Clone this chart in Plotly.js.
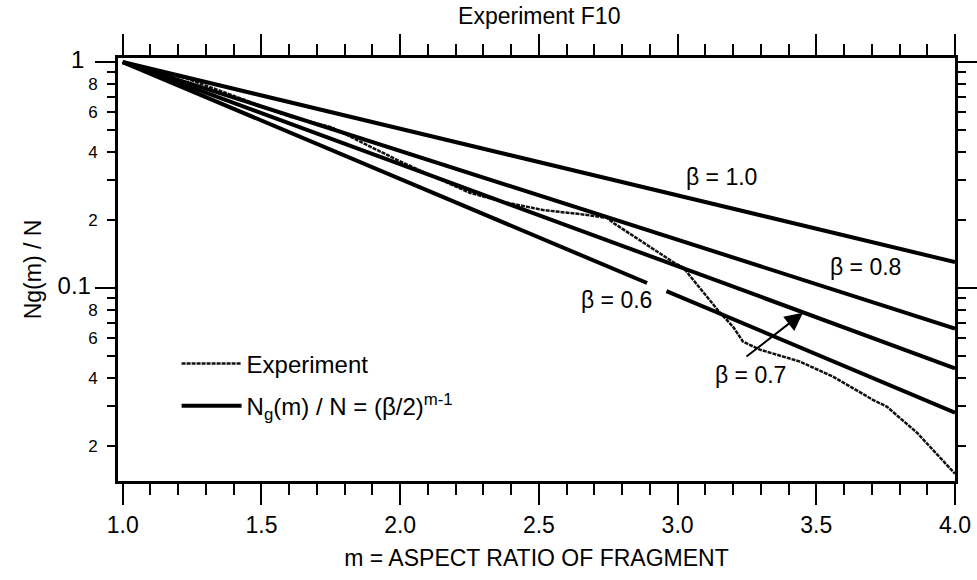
<!DOCTYPE html>
<html><head><meta charset="utf-8">
<script src="https://cdn.plot.ly/plotly-3.0.1.min.js"></script>
<style>html,body{margin:0;padding:0;background:#fff}#chart{width:977px;height:580px}</style>
</head><body><div id="chart"></div>
<script>
// Experiment F10
const expM = [1.0, 1.1, 1.225, 1.39, 1.488, 1.607, 1.751, 1.867, 1.99, 2.083, 2.253, 2.372, 2.515, 2.65, 2.746, 2.768, 2.984, 3.02, 3.153, 3.2, 3.236, 3.297, 3.441, 3.56, 3.704, 3.755, 3.863, 4.0];
const expN = [1.0, 0.92, 0.85, 0.714, 0.645, 0.571, 0.515, 0.438, 0.368, 0.326, 0.263, 0.240, 0.221, 0.212, 0.204, 0.194, 0.130, 0.123, 0.0775, 0.0672, 0.0577, 0.0532, 0.0471, 0.0404, 0.0319, 0.0297, 0.0228, 0.0150];

// Theory lines Ng(m)/N = (beta/2)^(m-1)
const betaNames = ['β = 1.0', 'β = 0.8', 'β = 0.7', 'β = 0.6'];
const theoryM = [[1, 4], [1, 4], [1, 4], [1, 2.89, null, 2.96, 4]];
const theoryN = [[1, 0.13], [1, 0.066], [1, 0.044], [1, 0.105, null, 0.0967, 0.028]];

// label positions (data units)
const labelM = [3.16, 3.677, 3.262, 2.78];
const labelN = [0.31, 0.124, 0.0412, 0.0885];
const arrowHeadM = 3.452, arrowHeadN = 0.0775;
const arrowTailM = 3.243, arrowTailN = 0.049;

// tick labels
const yLabelVals = [0.02, 0.04, 0.06, 0.08, 0.1, 0.2, 0.4, 0.6, 0.8, 1];
const yLabelText = ['2', '4', '6', '8', '0.1', '2', '4', '6', '8', '1'];
const yMinorVals = [0.03, 0.05, 0.07, 0.09, 0.3, 0.5, 0.7, 0.9];
const yMajorVals = [0.1, 1];
const yMajorPad = ['\u00a0', '\u00a0\u00a0'];

const FONT = 'Liberation Sans, Arial, Helvetica, sans-serif';
const yText = yLabelText.map((t, i) => {
  const k = yMajorVals.indexOf(yLabelVals[i]);
  return k >= 0 ? '<span style="font-size:24px">' + t + yMajorPad[k] + '</span>' : t;
});

const traces = [{
  x: expM, y: expN, type: 'scatter', mode: 'lines', name: 'Experiment',
  line: {color: '#111', width: 2.5, dash: '4px,1px'}, legendgroup: 'a', hoverinfo: 'x+y'
}];
theoryM.forEach((xs, i) => {
  traces.push({
    x: xs, y: theoryN[i], type: 'scatter', mode: 'lines', yaxis: 'y2',
    name: i === 0 ? 'N<sub>g</sub>(m) / N = (β/2)<sup>m-1</sup>' : betaNames[i],
    showlegend: i === 0, legendgroup: 'b', connectgaps: false,
    line: {color: '#000', width: 4}
  });
});

const annotations = labelM.map((m, i) => ({
  x: m, y: Math.log10(labelN[i]), xref: 'x', yref: 'y', text: betaNames[i],
  showarrow: false, font: {family: FONT, size: 23, color: '#000'}
}));
annotations.push({
  x: arrowHeadM, y: Math.log10(arrowHeadN), ax: arrowTailM, ay: Math.log10(arrowTailN),
  xref: 'x', yref: 'y', axref: 'x', ayref: 'y', text: '', showarrow: true,
  arrowhead: 2, arrowsize: 1.8, arrowwidth: 2, arrowcolor: '#000'
});

const yRange = [-1.856, 0.018];
const layout = {
  width: 977, height: 580,
  margin: {l: 118, r: 22, t: 58, b: 99},
  paper_bgcolor: '#fff', plot_bgcolor: '#fff',
  font: {family: FONT, color: '#000'},
  title: {text: 'Experiment F10', font: {family: FONT, size: 23, color: '#000'},
          x: 0.552, xanchor: 'center', y: 0.972, yanchor: 'middle'},
  showlegend: true,
  legend: {x: 0.07, y: 0.33, xanchor: 'left', yanchor: 'top', bgcolor: 'rgba(0,0,0,0)',
           itemwidth: 60,
           font: {family: FONT, size: 24, color: '#000'}, traceorder: 'grouped', tracegroupgap: 8},
  xaxis: {
    range: [0.983, 4.0], tickmode: 'linear', tick0: 1, dtick: 0.5, tickformat: '.1f',
    ticks: 'outside', ticklen: 21, tickwidth: 2, tickcolor: '#000',
    minor: {dtick: 0.1, tick0: 1, ticks: 'outside', ticklen: 11, tickwidth: 2, tickcolor: '#000'},
    showline: true, linewidth: 3, linecolor: '#000', mirror: 'ticks',
    showgrid: false, zeroline: false,
    tickfont: {family: FONT, size: 23, color: '#000'},
    title: {text: 'm = ASPECT RATIO OF FRAGMENT', font: {family: FONT, size: 23, color: '#000'}, standoff: 14}
  },
  yaxis: {
    type: 'log', range: yRange, tickmode: 'array', tickvals: yLabelVals, ticktext: yText,
    ticks: 'outside', ticklen: 8, tickwidth: 2, tickcolor: '#000', ticklabelstandoff: 6,
    minor: {tickmode: 'array', tickvals: yMinorVals, ticks: 'outside', ticklen: 8, tickwidth: 2, tickcolor: '#000'},
    showline: true, linewidth: 3, linecolor: '#000', mirror: 'ticks',
    showgrid: false, zeroline: false,
    tickfont: {family: FONT, size: 17, color: '#000'},
    title: {text: 'Ng(m) / N', font: {family: FONT, size: 23, color: '#000'}, standoff: 10}
  },
  yaxis2: {
    type: 'log', range: yRange, overlaying: 'y', side: 'left', anchor: 'x',
    tickmode: 'array', tickvals: yMajorVals, showticklabels: false,
    ticks: 'outside', ticklen: 20, tickwidth: 2, tickcolor: '#000',
    showline: true, linewidth: 3, linecolor: '#000', mirror: 'ticks',
    showgrid: false, zeroline: false
  },
  annotations: annotations
};

Plotly.newPlot('chart', traces, layout, {displayModeBar: false, staticPlot: true});
</script>
</body></html>
